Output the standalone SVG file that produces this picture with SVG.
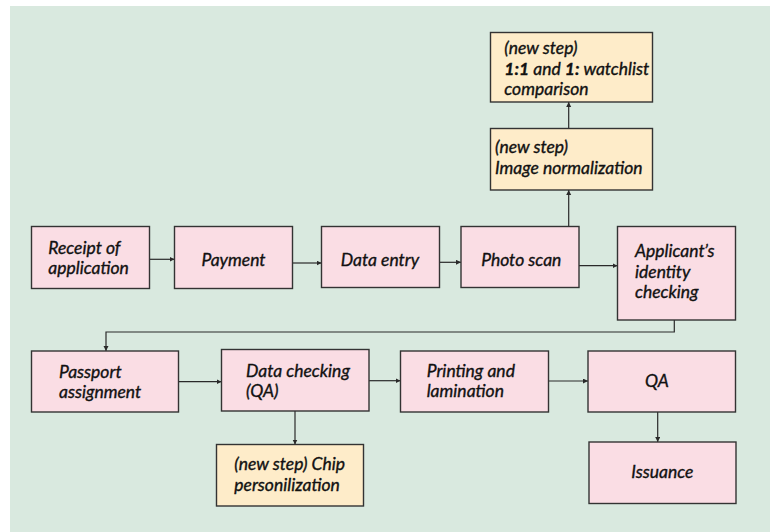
<svg xmlns="http://www.w3.org/2000/svg" width="770" height="532" viewBox="0 0 770 532">
<style>
.bg{fill:#d9e9df}
.p{fill:#fadde4;stroke:#333;stroke-width:1.4}
.y{fill:#feecc9;stroke:#333;stroke-width:1.4}
text{font-family:Lato,"Open Sans","Liberation Sans",sans-serif;font-style:italic;font-size:17.5px;fill:#111;stroke:#111;stroke-width:0.35}
.c{text-anchor:middle}
.b{font-weight:bold}
.ln{fill:none;stroke:#2a2a2a;stroke-width:1.2}
</style>
<defs>
<marker id="ah" markerUnits="userSpaceOnUse" markerWidth="6" markerHeight="6" refX="5" refY="2.5" orient="auto">
<path d="M0,0 L5,2.5 L0,5 z" fill="#2a2a2a"/>
</marker>
</defs>
<rect class="bg" x="10" y="6" width="760" height="526"/>
<g id="connectors">
<line class="ln" x1="149.5" y1="259.3" x2="174.5" y2="259.3" marker-end="url(#ah)"/>
<line class="ln" x1="292.5" y1="263" x2="321.5" y2="263" marker-end="url(#ah)"/>
<line class="ln" x1="439.5" y1="262.3" x2="461" y2="262.3" marker-end="url(#ah)"/>
<line class="ln" x1="579" y1="265.7" x2="617.5" y2="265.7" marker-end="url(#ah)"/>
<line class="ln" x1="568.7" y1="226.5" x2="568.7" y2="190" marker-end="url(#ah)"/>
<line class="ln" x1="568.7" y1="128.5" x2="568.7" y2="102" marker-end="url(#ah)"/>
<polyline class="ln" points="674.3,320 674.3,332 106,332 106,351" marker-end="url(#ah)"/>
<line class="ln" x1="178.5" y1="381.7" x2="221.5" y2="381.7" marker-end="url(#ah)"/>
<line class="ln" x1="369" y1="380.7" x2="400.5" y2="380.7" marker-end="url(#ah)"/>
<line class="ln" x1="548.5" y1="381" x2="588" y2="381" marker-end="url(#ah)"/>
<line class="ln" x1="295" y1="411" x2="295" y2="444.5" marker-end="url(#ah)"/>
<line class="ln" x1="657.7" y1="412" x2="657.7" y2="442" marker-end="url(#ah)"/>
</g>
<g id="watchlist">
<rect class="y" x="490.5" y="32.5" width="162" height="69.5"/>
<text x="504.3" y="54.3">(new step)</text>
<text x="504.3" y="75"><tspan class="b">1:1</tspan> and <tspan class="b">1:</tspan> watchlist</text>
<text x="504.3" y="95">comparison</text>
</g>
<g id="normalization">
<rect class="y" x="490.5" y="128.5" width="162" height="61.5"/>
<text x="495" y="153.3">(new step)</text>
<text x="495" y="174">Image normalization</text>
</g>
<g id="receipt">
<rect class="p" x="31.5" y="226.5" width="118" height="62"/>
<text x="48.3" y="254">Receipt of</text>
<text x="48.3" y="274">application</text>
</g>
<g id="payment">
<rect class="p" x="174.5" y="226.5" width="118" height="62"/>
<text class="c" x="233.5" y="265.7">Payment</text>
</g>
<g id="dataentry">
<rect class="p" x="321.5" y="226.5" width="118" height="61"/>
<text class="c" x="380" y="265.7">Data entry</text>
</g>
<g id="photoscan">
<rect class="p" x="461" y="226.5" width="118" height="61"/>
<text class="c" x="521.3" y="265.7">Photo scan</text>
</g>
<g id="identity">
<rect class="p" x="617.5" y="226.5" width="118" height="93.5"/>
<text x="635" y="256.7">Applicant’s</text>
<text x="635" y="277.7">identity</text>
<text x="635" y="297.7">checking</text>
</g>
<g id="passport">
<rect class="p" x="31.5" y="351" width="147" height="61"/>
<text x="59" y="377.5">Passport</text>
<text x="59" y="398">assignment</text>
</g>
<g id="datacheck">
<rect class="p" x="221.5" y="349.5" width="147.5" height="61.5"/>
<text x="246" y="376.7">Data checking</text>
<text x="246" y="397.3">(QA)</text>
</g>
<g id="printing">
<rect class="p" x="400.5" y="351" width="148" height="61"/>
<text x="426.7" y="376.7">Printing and</text>
<text x="426.7" y="396.7">lamination</text>
</g>
<g id="qa">
<rect class="p" x="588" y="351" width="147.5" height="61"/>
<text class="c" x="657" y="386.7">QA</text>
</g>
<g id="chip">
<rect class="y" x="216.5" y="444.5" width="147" height="61.5"/>
<text x="234.3" y="470">(new step) Chip</text>
<text x="234.3" y="490.7">personilization</text>
</g>
<g id="issuance">
<rect class="p" x="589" y="442" width="147" height="61.5"/>
<text class="c" x="662.3" y="477.7">Issuance</text>
</g>
</svg>
